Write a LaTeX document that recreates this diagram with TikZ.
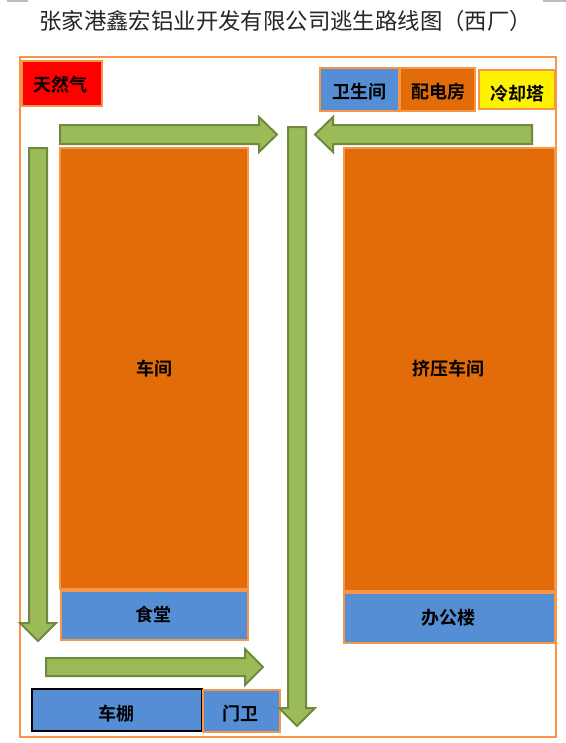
\documentclass[tikz,border=0pt]{standalone}
\usepackage{fontspec}
\newfontfamily\cjk{Noto Sans CJK SC}
\newfontfamily\cjkb{Noto Sans CJK SC Bold}
\usetikzlibrary{calc}
\definecolor{frameor}{HTML}{F79646}
\definecolor{orfill}{HTML}{E36C0A}
\definecolor{blfill}{HTML}{558ED5}
\definecolor{grfill}{HTML}{9BBB59}
\definecolor{grline}{HTML}{71893F}
\definecolor{cropgr}{HTML}{BBBBBB}
\tikzset{
  room/.style={draw=frameor,line width=2pt,inner sep=0pt,outer sep=0pt,anchor=north west},
  orroom/.style={room,fill=orfill},
  blroom/.style={room,fill=blfill},
  flow/.style={draw=grline,line width=1.5pt,fill=grfill,line join=miter},
  lbl/.style={inner sep=0pt,font=\cjkb\fontsize{13.5pt}{15pt}\selectfont,text=black}
}
\newcommand{\roombox}[6]{% style,name,x1,y1,x2,y2
  \path let \n1={#5-#3}, \n2={#6-#4} in node[#1,minimum width=0.75pt*\n1,minimum height=0.75pt*\n2] (#2) at (#3,#4) {};
}
\begin{document}
\begin{tikzpicture}[x=0.75pt,y=-0.75pt]
\useasboundingbox (0,0) rectangle (566,743);
\fill[white] (0,0) rectangle (566,743);
\draw[cropgr,line width=0.8pt] (7,1) -- (28,1) (543,1) -- (566,1);
\node[inner sep=0pt,anchor=west,font=\cjk\fontsize{16.8pt}{18pt}\selectfont,text=black!85] (title) at (39,21) {张家港鑫宏铝业开发有限公司逃生路线图（西厂）};
\draw[frameor,line width=1.6pt] (20,57) rectangle (556,737);
\roombox{room,fill=red}{gas}{22}{61}{102}{106}
\node[lbl] (gast) at (60,85) {天然气};
\roombox{orroom}{shop}{60}{148}{248}{589}
\node[lbl] (shopt) at (154,369) {车间};
\roombox{blroom}{canteen}{61}{591}{248}{640}
\node[lbl] (cant) at (153,615) {食堂};
\roombox{room,draw=black,fill=blfill}{shed}{32}{689}{202}{731}
\node[lbl] (shedt) at (116,714) {车棚};
\roombox{blroom}{guard}{203}{690}{280}{732}
\node[lbl] (guardt) at (240,714) {门卫};
\roombox{blroom}{wc}{320}{68}{399}{111}
\node[lbl] (wct) at (359,92) {卫生间};
\roombox{orroom}{power}{400}{68}{475}{111}
\node[lbl] (powert) at (438,92) {配电房};
\roombox{room,fill=yellow}{tower}{479}{70}{555}{109}
\node[lbl] (towert) at (517,94) {冷却塔};
\roombox{orroom}{press}{344}{148}{555}{591}
\node[lbl] (presst) at (448,369) {挤压车间};
\roombox{blroom}{office}{344}{593}{555}{643}
\node[lbl] (officet) at (448,618) {办公楼};
% evacuation arrows
\draw[flow] (60,125) -- (259,125) -- (259,117) -- (277,134.5) -- (259,152) -- (259,144) -- (60,144) -- cycle;
\draw[flow] (532,125) -- (333,125) -- (333,117) -- (315,134.5) -- (333,152) -- (333,144) -- (532,144) -- cycle;
\draw[flow] (46,658) -- (245,658) -- (245,649) -- (263,667) -- (245,685) -- (245,676) -- (46,676) -- cycle;
\draw[flow] (29,148) -- (47,148) -- (47,623) -- (56,623) -- (38,641) -- (20,623) -- (29,623) -- cycle;
\draw[flow] (288,127) -- (306,127) -- (306,708) -- (315,708) -- (297,726) -- (279,708) -- (288,708) -- cycle;
\end{tikzpicture}
\end{document}
